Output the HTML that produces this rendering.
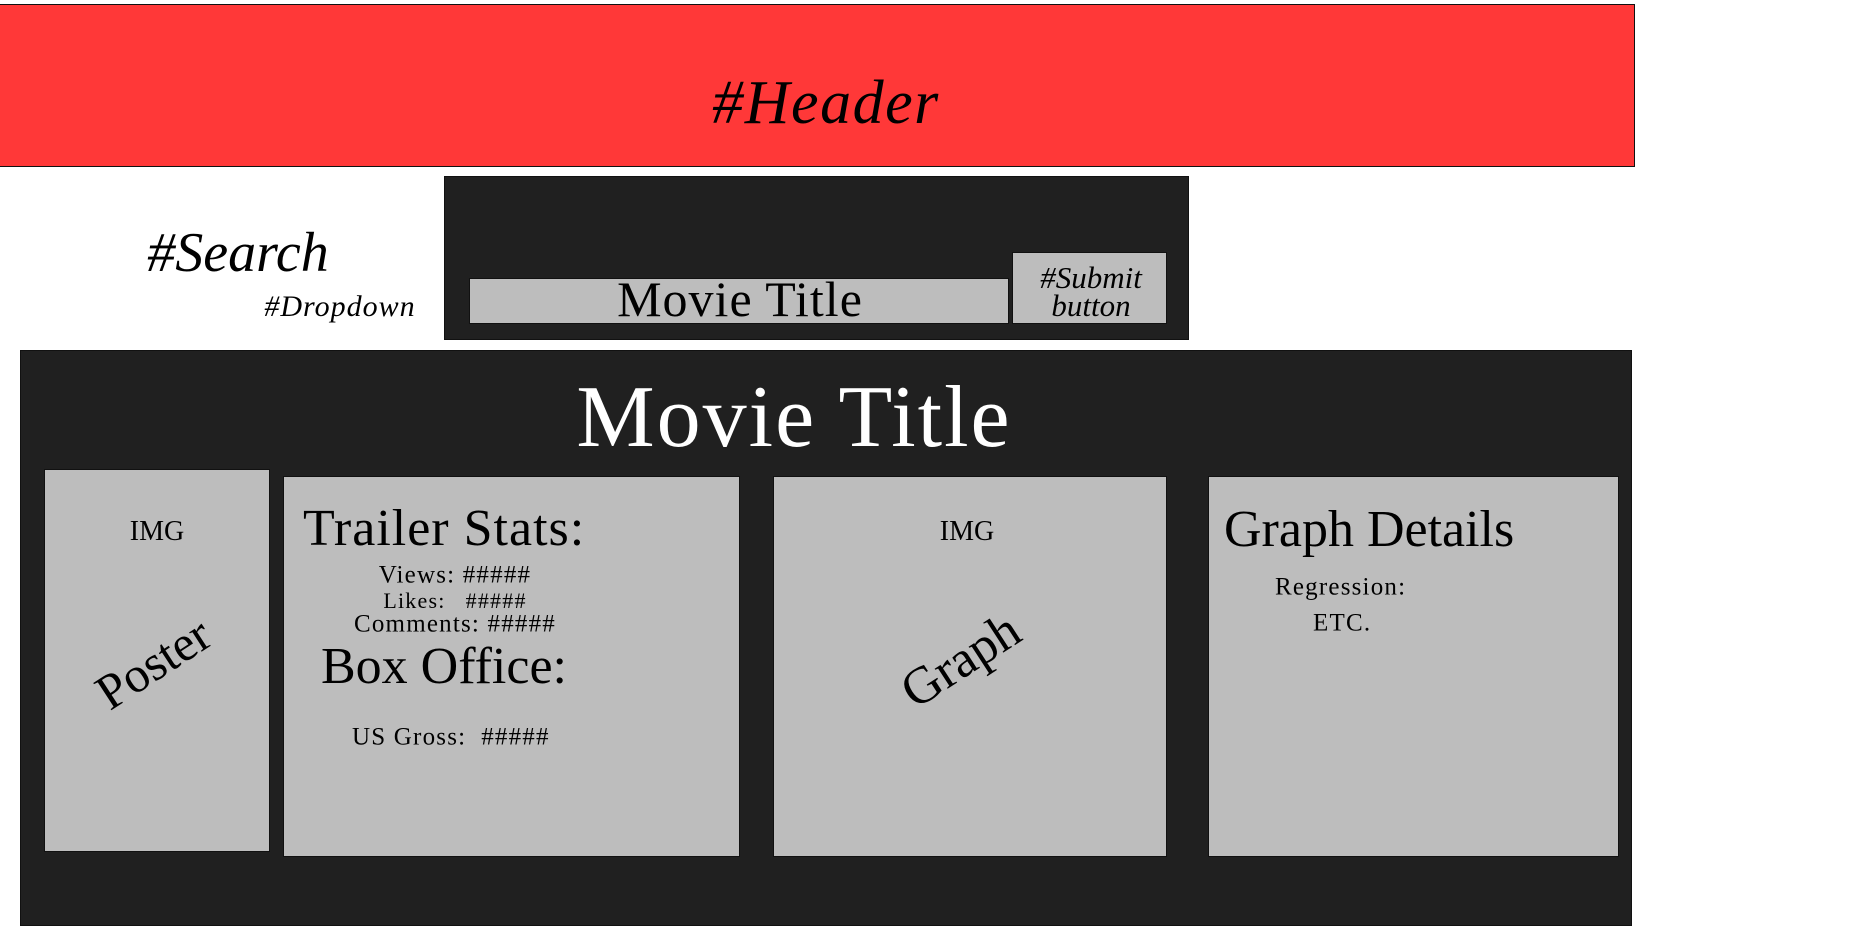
<!DOCTYPE html>
<html><head><meta charset="utf-8"><style>
body{margin:0;width:1855px;height:937px;background:#fff;position:relative;overflow:hidden;font-family:"Liberation Serif",serif;}
.b{position:absolute;box-sizing:border-box;border:1px solid #111;}
.t{position:absolute;white-space:nowrap;transform:translate(-50%,-50%);line-height:1;}
.l{position:absolute;white-space:nowrap;transform:translateY(-50%);line-height:1;}
.g{background:#bdbdbd;}
.s{font-size:25px;letter-spacing:1.2px;}
</style></head><body>
<div class="b" style="left:-1px;top:4px;width:1636px;height:163px;background:#ff3838"></div>
<div class="t" style="left:826px;top:103px;font-size:62px;font-style:italic;letter-spacing:1.5px">#Header</div>

<div class="t" style="left:238px;top:253px;font-size:56px;font-style:italic">#Search</div>
<div class="t" style="left:340px;top:307px;font-size:30px;font-style:italic;letter-spacing:1px">#Dropdown</div>

<div class="b" style="left:444px;top:176px;width:745px;height:164px;background:#202020"></div>
<div class="b g" style="left:469px;top:278px;width:540px;height:46px"></div>
<div class="t" style="left:740px;top:299px;font-size:50px;letter-spacing:1px">Movie Title</div>
<div class="b g" style="left:1012px;top:252px;width:155px;height:72px"></div>
<div class="t" style="left:1091px;top:292px;font-size:31px;font-style:italic;text-align:center;line-height:28px">#Submit<br>button</div>

<div class="b" style="left:20px;top:350px;width:1612px;height:576px;background:#202020"></div>
<div class="t" style="left:794px;top:418px;font-size:88px;color:#fff;letter-spacing:2px">Movie Title</div>

<div class="b g" style="left:44px;top:469px;width:226px;height:383px"></div>
<div class="b g" style="left:283px;top:476px;width:457px;height:381px"></div>
<div class="b g" style="left:773px;top:476px;width:394px;height:381px"></div>
<div class="b g" style="left:1208px;top:476px;width:411px;height:381px"></div>

<div class="t" style="left:157px;top:532px;font-size:28px">IMG</div>
<div class="t" style="left:153px;top:663px;font-size:50px;transform:translate(-50%,-50%) rotate(-33deg)">Poster</div>

<div class="l" style="left:303px;top:529px;font-size:52px;letter-spacing:1px">Trailer Stats:</div>
<div class="t s" style="left:455px;top:575px">Views: #####</div>
<div class="t s" style="left:455px;top:601px;font-size:22px">Likes:&nbsp;&nbsp; #####</div>
<div class="t s" style="left:455px;top:624px">Comments: #####</div>
<div class="l" style="left:321px;top:667px;font-size:52px">Box Office:</div>
<div class="l s" style="left:352px;top:737px">US Gross:&nbsp; #####</div>

<div class="t" style="left:967px;top:532px;font-size:28px">IMG</div>
<div class="t" style="left:961px;top:661px;font-size:52px;transform:translate(-50%,-50%) rotate(-33deg)">Graph</div>

<div class="l" style="left:1224px;top:530px;font-size:52px">Graph Details</div>
<div class="l s" style="left:1275px;top:587px">Regression:</div>
<div class="l s" style="left:1313px;top:623px">ETC.</div>
</body></html>
